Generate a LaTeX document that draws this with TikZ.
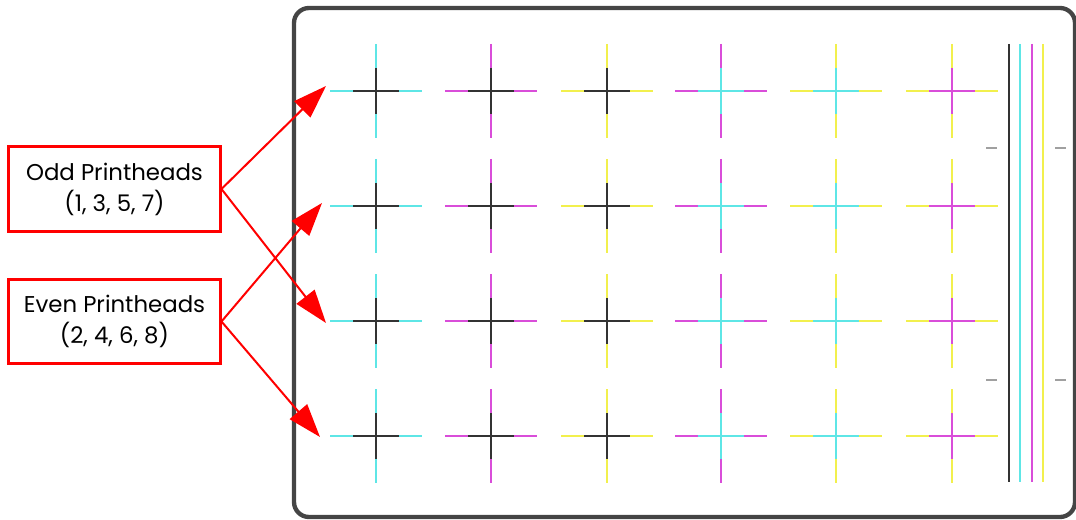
\documentclass[tikz,border=0pt]{standalone}
\usepackage{fontspec}
\setmainfont{Poppins}
\usetikzlibrary{arrows.meta,positioning}

\definecolor{inkK}{HTML}{333333}
\definecolor{inkC}{HTML}{5EE6E6}
\definecolor{inkM}{HTML}{D94DD9}
\definecolor{inkY}{HTML}{F2F04D}
\definecolor{panelgray}{HTML}{454545}
\definecolor{tickgray}{HTML}{A0A0A0}

\tikzset{
  headbox/.style={draw=red, line width=0.9mm, minimum width=63.3mm, minimum height=25.2mm,
                  align=center, font=\fontsize{19.5}{26.5}\selectfont, inner sep=0pt},
  headarrow/.style={draw=red, line width=0.6mm, -{Triangle[length=10mm,width=6.8mm]}, red},
  crossline/.style={line width=0.65mm}
}

\begin{document}
\begin{tikzpicture}[x=0.3mm, y=-0.3mm]

\useasboundingbox (0,0) rectangle (1076,520);

% Page frame
\draw[panelgray, line width=1.3mm, rounded corners=4.5mm] (294,8) rectangle (1075,517);

% Crosses: column x / centre colour / arm colour
\foreach \cx/\ci/\co in {376/inkK/inkC, 491/inkK/inkM, 607/inkK/inkY,
                         721/inkC/inkM, 836/inkC/inkY, 952/inkM/inkY} {
  \foreach \cy in {91,206,321,436} {
    \draw[crossline, \co] (\cx-46,\cy) -- (\cx+46,\cy) (\cx,\cy-47) -- (\cx,\cy+47);
    \draw[crossline, \ci] (\cx-23,\cy) -- (\cx+23,\cy) (\cx,\cy-23) -- (\cx,\cy+23);
  }
}

% Colour bars on the right
\foreach \bx/\bc in {1009/inkK, 1020/inkC, 1032/inkM, 1043/inkY}
  \draw[crossline, \bc] (\bx,44) -- (\bx,482);

% small gray ticks
\foreach \ty in {148,380} {
  \draw[tickgray, line width=0.4mm] (986,\ty) -- (997,\ty);
  \draw[tickgray, line width=0.4mm] (1055,\ty) -- (1066,\ty);
}

% Label boxes
\node[headbox] (odd) at (114.5,189) {Odd Printheads\\(1, 3, 5, 7)};
\node[headbox] (even) at (114.5,321.5) {Even Printheads\\(2, 4, 6, 8)};

% Arrow targets
\coordinate (row1) at (326,86);
\coordinate (row2) at (322,203);
\coordinate (row3) at (326,323);
\coordinate (row4) at (320,437);

\draw[headarrow] (odd.east) -- (row1);
\draw[headarrow] (odd.east) -- (row3);
\draw[headarrow] (even.east) -- (row2);
\draw[headarrow] (even.east) -- (row4);

\end{tikzpicture}
\end{document}
